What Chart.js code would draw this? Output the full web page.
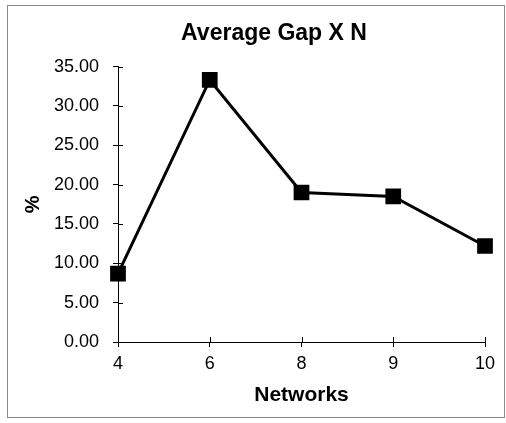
<!DOCTYPE html>
<html>
<head>
<meta charset="utf-8">
<script src="https://cdn.jsdelivr.net/npm/chart.js@4/dist/chart.umd.min.js"></script>
<style>
  html, body { margin: 0; padding: 0; background: #fff; }
  #wrap { position: relative; width: 506px; height: 423px; }
  #frame { position: absolute; left: 7px; top: 5px; width: 496px; height: 411px;
           border: 1px solid #8a8a8a; pointer-events: none; }
</style>
</head>
<body>
<div id="wrap">
  <canvas id="grafico" width="506" height="423"></canvas>
  <div id="frame"></div>
</div>
<script>
const networks = ["4", "6", "8", "9", "10"];
const averageGap = [8.7, 33.3, 19.0, 18.5, 12.2];
const yTicks = [0, 5, 10, 15, 20, 25, 30, 35];

const fontFamily = "'Liberation Sans', Arial, sans-serif";

// short tick marks on the inside of both axes
const innerTicks = {
    id: "innerTicks",
    afterLayout(chart) {
        // centre the title a bit right of the canvas middle, like the original
        if (chart.titleBlock) chart.titleBlock.left = 63;
    },
    afterDraw(chart) {
        const ctx = chart.ctx;
        const x = chart.scales.x;
        const y = chart.scales.y;
        ctx.save();
        ctx.strokeStyle = "#000";
        ctx.lineWidth = 1;
        ctx.beginPath();
        x.ticks.forEach((t, i) => {
            const px = Math.round(x.getPixelForTick(i)) + 0.5;
            ctx.moveTo(px, x.top);
            ctx.lineTo(px, x.top - 5);
        });
        y.ticks.forEach((t, i) => {
            const py = Math.round(y.getPixelForTick(i)) + 0.5;
            ctx.moveTo(y.right, py);
            ctx.lineTo(y.right + 5, py);
        });
        ctx.stroke();
        ctx.restore();
    }
};

new Chart(document.getElementById("grafico"), {
    type: "line",
    data: {
        labels: networks,
        datasets: [{
            label: "Average Gap",
            data: averageGap,
            borderColor: "#000",
            backgroundColor: "#000",
            borderWidth: 3,
            pointStyle: "rect",
            pointRadius: 9,
            pointHoverRadius: 9,
            tension: 0
        }]
    },
    options: {
        responsive: false,
        animation: false,
        layout: { padding: { top: 8, right: 21, left: 0, bottom: 0 } },
        plugins: {
            legend: { display: false },
            tooltip: { enabled: false },
            title: {
                display: true,
                text: "Average Gap X N",
                color: "#000",
                font: { family: fontFamily, size: 23, weight: "bold" },
                padding: { top: 12, bottom: 19 }
            }
        },
        scales: {
            x: {
                type: "category",
                offset: false,
                border: { display: true, color: "#000", width: 1 },
                grid: { drawOnChartArea: false, drawTicks: true, tickLength: 5, color: "#000" },
                ticks: {
                    color: "#000",
                    padding: 6,
                    font: { family: fontFamily, size: 18 }
                },
                title: {
                    display: true,
                    text: "Networks",
                    color: "#000",
                    font: { family: fontFamily, size: 21, weight: "bold" },
                    padding: { top: 0, bottom: 15 }
                },
                afterFit(scale) { scale.height = 81; }
            },
            y: {
                min: 0,
                max: 35,
                border: { display: true, color: "#000", width: 1 },
                grid: { drawOnChartArea: false, drawTicks: true, tickLength: 5, color: "#000" },
                afterBuildTicks(scale) { scale.ticks = yTicks.map(v => ({ value: v })); },
                ticks: {
                    color: "#000",
                    padding: 14,
                    font: { family: fontFamily, size: 18 },
                    callback: v => Number(v).toFixed(2)
                },
                title: {
                    display: true,
                    text: "%",
                    color: "#000",
                    font: { family: fontFamily, size: 20, weight: "bold" },
                    padding: { top: 21, bottom: 0 }
                },
                afterFit(scale) { scale.width = 118; }
            }
        }
    },
    plugins: [innerTicks]
});
</script>
</body>
</html>
